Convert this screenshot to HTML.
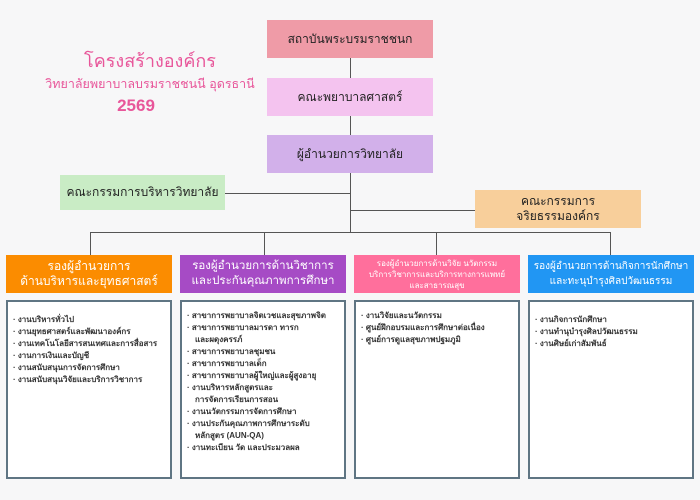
<!DOCTYPE html>
<html><head><meta charset="utf-8"><style>
body{margin:0;width:700px;height:500px;background:#f7f7f8;position:relative;overflow:hidden;font-family:"Liberation Sans","Noto Sans CJK SC",sans-serif}
.b{position:absolute;display:flex;align-items:center;justify-content:center;text-align:center;color:#222;font-size:12px;line-height:15px;white-space:nowrap}
.l{position:absolute;background:#555}
.c{position:absolute;background:#fff;border:2px solid #5f7583;box-sizing:border-box;font-size:8px;line-height:12px;color:#333;font-weight:bold;padding:8px 5px;white-space:nowrap}
.c div{padding-left:8px;text-indent:-8px}
.t{position:absolute;color:#e8569a;text-align:center;white-space:nowrap}
</style></head><body>
<div class="t" style="left:40px;top:46px;width:220px;font-size:18px">โครงสร้างองค์กร</div>
<div class="t" style="left:40px;top:74px;width:220px;font-size:12.5px">วิทยาลัยพยาบาลบรมราชชนนี อุดรธานี</div>
<div class="t" style="left:40px;top:96px;width:192px;font-size:17px;font-weight:bold">2569</div>

<div class="l" style="left:350px;top:58px;width:1px;height:175px"></div>
<div class="l" style="left:225px;top:193px;width:125px;height:1px"></div>
<div class="l" style="left:350px;top:210px;width:125px;height:1px"></div>
<div class="l" style="left:90px;top:232px;width:521px;height:1px"></div>
<div class="l" style="left:90px;top:232px;width:1px;height:23px"></div>
<div class="l" style="left:264px;top:232px;width:1px;height:23px"></div>
<div class="l" style="left:436px;top:232px;width:1px;height:23px"></div>
<div class="l" style="left:610px;top:232px;width:1px;height:23px"></div>

<div class="b" style="left:267px;top:20px;width:166px;height:38px;background:#ef9ba7">สถาบันพระบรมราชชนก</div>
<div class="b" style="left:267px;top:78px;width:166px;height:38px;background:#f4c3ef">คณะพยาบาลศาสตร์</div>
<div class="b" style="left:267px;top:135px;width:166px;height:38px;background:#d2b0ea">ผู้อำนวยการวิทยาลัย</div>
<div class="b" style="left:60px;top:175px;width:165px;height:35px;background:#c9ecc5">คณะกรรมการบริหารวิทยาลัย</div>
<div class="b" style="left:475px;top:190px;width:166px;height:38px;background:#f8cf9b">คณะกรรมการ<br>จริยธรรมองค์กร</div>

<div class="b" style="left:6px;top:255px;width:166px;height:38px;background:#fb8c00;color:#fff">รองผู้อำนวยการ<br>ด้านบริหารและยุทธศาสตร์</div>
<div class="b" style="left:180px;top:255px;width:166px;height:38px;background:#a64bc5;color:#fff;font-size:11.5px">รองผู้อำนวยการด้านวิชาการ<br>และประกันคุณภาพการศึกษา</div>
<div class="b" style="left:354px;top:255px;width:166px;height:38px;background:#ff6f9c;color:#fff;font-size:8px;line-height:11px">รองผู้อำนวยการด้านวิจัย นวัตกรรม<br>บริการวิชาการและบริการทางการแพทย์<br>และสาธารณสุข</div>
<div class="b" style="left:528px;top:255px;width:166px;height:38px;background:#2196f3;color:#fff;font-size:10px">รองผู้อำนวยการด้านกิจการนักศึกษา<br>และทะนุบำรุงศิลปวัฒนธรรม</div>

<div class="c" style="left:6px;top:300px;width:166px;height:179px;padding-top:12px">
<div>· งานบริหารทั่วไป</div><div>· งานยุทธศาสตร์และพัฒนาองค์กร</div><div>· งานเทคโนโลยีสารสนเทศและการสื่อสาร</div><div>· งานการเงินและบัญชี</div><div>· งานสนับสนุนการจัดการศึกษา</div><div>· งานสนับสนุนวิจัยและบริการวิชาการ</div></div>
<div class="c" style="left:180px;top:300px;width:166px;height:179px">
<div>· สาขาการพยาบาลจิตเวชและสุขภาพจิต</div><div>· สาขาการพยาบาลมารดา ทารก<br>และผดุงครรภ์</div><div>· สาขาการพยาบาลชุมชน</div><div>· สาขาการพยาบาลเด็ก</div><div>· สาขาการพยาบาลผู้ใหญ่และผู้สูงอายุ</div><div>· งานบริหารหลักสูตรและ<br>การจัดการเรียนการสอน</div><div>· งานนวัตกรรมการจัดการศึกษา</div><div>· งานประกันคุณภาพการศึกษาระดับ<br>หลักสูตร (AUN-QA)</div><div>· งานทะเบียน วัด และประมวลผล</div></div>
<div class="c" style="left:354px;top:300px;width:166px;height:179px">
<div>· งานวิจัยและนวัตกรรม</div><div>· ศูนย์ฝึกอบรมและการศึกษาต่อเนื่อง</div><div>· ศูนย์การดูแลสุขภาพปฐมภูมิ</div></div>
<div class="c" style="left:528px;top:300px;width:166px;height:179px;padding-top:12px">
<div>· งานกิจการนักศึกษา</div><div>· งานทำนุบำรุงศิลปวัฒนธรรม</div><div>· งานศิษย์เก่าสัมพันธ์</div></div>
</body></html>
